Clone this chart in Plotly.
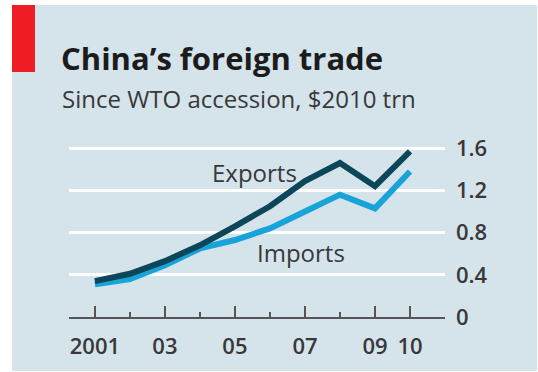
import plotly.graph_objects as go

years = [2001, 2002, 2003, 2004, 2005, 2006, 2007, 2008, 2009, 2010]
exports = [0.34, 0.41, 0.53, 0.68, 0.86, 1.05, 1.29, 1.46, 1.24, 1.57]
imports = [0.31, 0.36, 0.49, 0.65, 0.73, 0.84, 1.00, 1.16, 1.03, 1.38]
xtick_vals = [2001, 2003, 2005, 2007, 2009, 2010]
xtick_text = ["2001", "03", "05", "07", "09", "10"]
ytick_vals = [0, 0.4, 0.8, 1.2, 1.6]
ytick_text = ["0", "0.4", "0.8", "1.2", "1.6"]

W, H = 538, 372
ML, MR, MT, MB = 69, 93, 143, 55
PW, PH = W - ML - MR, H - MT - MB

def px(x):
    return (x - ML) / PW

def py(y):
    return (H - MB - y) / PH

BG = "#d5e3eb"
FONT = "Open Sans"
TXT = "#383838"

fig = go.Figure()
fig.add_trace(go.Scatter(x=years, y=imports, mode="lines",
                         line=dict(color="#18a4d8", width=6), hoverinfo="skip"))
fig.add_trace(go.Scatter(x=years, y=exports, mode="lines",
                         line=dict(color="#0c4659", width=6), hoverinfo="skip"))

shapes = [
    dict(type="rect", xref="paper", yref="paper", x0=px(12), x1=px(537), y0=py(371), y1=py(5),
         fillcolor=BG, line=dict(width=0), layer="below"),
    dict(type="rect", xref="paper", yref="paper", x0=px(12), x1=px(35), y0=py(72), y1=py(5),
         fillcolor="#ee1c25", line=dict(width=0), layer="below"),
]

annotations = [
    dict(text="<b>China’s foreign trade</b>", xref="paper", yref="paper", x=px(59), y=py(58),
         xanchor="left", yanchor="middle", showarrow=False,
         font=dict(family=FONT, size=31, color="#1c1c1c")),
    dict(text="Since WTO accession, $2010 trn", xref="paper", yref="paper", x=px(60), y=py(98),
         xanchor="left", yanchor="middle", showarrow=False,
         font=dict(family=FONT, size=24, color=TXT, weight=500)),
    dict(text="Exports", x=2004.29, y=1.375, xanchor="left", yanchor="middle", showarrow=False,
         font=dict(family=FONT, size=24, color=TXT, weight=500)),
    dict(text="Imports", x=2005.57, y=0.607, xanchor="left", yanchor="middle", showarrow=False,
         font=dict(family=FONT, size=24, color=TXT, weight=500)),
]

fig.update_layout(
    width=W, height=H,
    margin=dict(l=ML, r=MR, t=MT, b=MB),
    paper_bgcolor="white", plot_bgcolor="rgba(0,0,0,0)",
    showlegend=False,
    shapes=shapes, annotations=annotations,
    xaxis=dict(range=[2000.26, 2011.0], tickvals=xtick_vals, ticktext=xtick_text,
               ticks="inside", ticklen=11, tickwidth=1.5, tickcolor="#555555",
               minor=dict(tickvals=[2002, 2004, 2006, 2008, 2010], ticks="inside",
                          ticklen=5, tickwidth=1.5, tickcolor="#555555"),
               showline=True, linecolor="#555555", linewidth=1.5,
               showgrid=False, zeroline=False, ticklabelstandoff=9,
               tickfont=dict(family=FONT, size=22, color=TXT, weight=600)),
    yaxis=dict(range=[0, 1.65], side="right", tickvals=ytick_vals, ticktext=ytick_text,
               showgrid=True, gridcolor="white", gridwidth=3, zeroline=False,
               ticks="", ticklabelstandoff=10,
               tickfont=dict(family=FONT, size=22, color=TXT, weight=600)),
)

fig.write_html("out.html")
